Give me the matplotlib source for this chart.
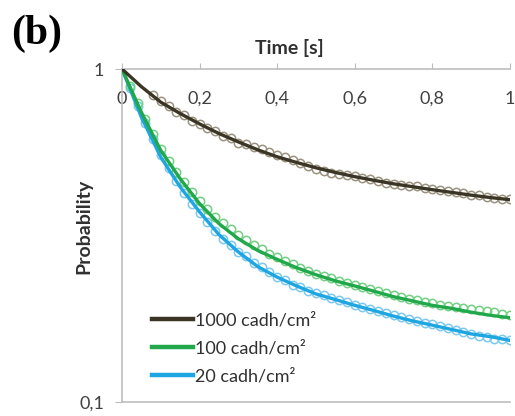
import numpy as np
import matplotlib
matplotlib.use("Agg")
from matplotlib import pyplot as plt

plt.rcParams['font.family'] = ['Lato', 'DejaVu Sans']

# fitted curves, read every 0.05 s
t_fit = [0.00, 0.05, 0.10, 0.15, 0.20, 0.25, 0.30, 0.35, 0.40, 0.45, 0.50,
         0.55, 0.60, 0.65, 0.70, 0.75, 0.80, 0.85, 0.90, 0.95, 1.00]
fit_1000 = [1.0, 0.885, 0.795, 0.735, 0.684, 0.640, 0.604, 0.572, 0.545, 0.524, 0.505,
            0.489, 0.475, 0.463, 0.452, 0.443, 0.434, 0.426, 0.418, 0.411, 0.405]
fit_100 = [1.0, 0.741, 0.569, 0.468, 0.394, 0.343, 0.309, 0.285, 0.268, 0.253, 0.241,
           0.231, 0.223, 0.215, 0.207, 0.201, 0.195, 0.191, 0.186, 0.182, 0.179]
fit_20 = [1.0, 0.716, 0.543, 0.442, 0.372, 0.318, 0.282, 0.255, 0.237, 0.223, 0.211,
          0.203, 0.195, 0.188, 0.181, 0.175, 0.170, 0.165, 0.160, 0.157, 0.153]

# measured points (open circles), every 0.02 s
t_pts = [0.02, 0.04, 0.06, 0.08, 0.10, 0.12, 0.14, 0.16, 0.18, 0.20,
         0.22, 0.24, 0.26, 0.28, 0.30, 0.32, 0.34, 0.36, 0.38, 0.40,
         0.42, 0.44, 0.46, 0.48, 0.50, 0.52, 0.54, 0.56, 0.58, 0.60,
         0.62, 0.64, 0.66, 0.68, 0.70, 0.72, 0.74, 0.76, 0.78, 0.80,
         0.82, 0.84, 0.86, 0.88, 0.90, 0.92, 0.94, 0.96, 0.98, 1.00]
pts_1000 = [None, None, None, 0.835, 0.802, 0.773, 0.744, 0.726, 0.700, 0.686,
            0.664, 0.652, 0.630, 0.620, 0.601, 0.594, 0.585, 0.574, 0.563, 0.553,
            0.544, 0.533, 0.522, 0.510, 0.500, 0.494, 0.488, 0.483, 0.479, 0.476,
            0.472, 0.467, 0.460, 0.454, 0.450, 0.447, 0.446, 0.444, 0.440, 0.436,
            0.433, 0.431, 0.427, 0.423, 0.419, 0.417, 0.414, 0.411, 0.408, 0.406]
pts_100 = [0.887, 0.790, 0.706, 0.636, 0.575, 0.531, 0.492, 0.458, 0.428, 0.401,
           0.380, 0.360, 0.344, 0.330, 0.317, 0.306, 0.296, 0.287, 0.279, 0.272,
           0.265, 0.259, 0.253, 0.247, 0.243, 0.239, 0.235, 0.231, 0.228, 0.225,
           0.222, 0.219, 0.215, 0.212, 0.209, 0.207, 0.204, 0.202, 0.200, 0.198,
           0.196, 0.194, 0.193, 0.191, 0.190, 0.189, 0.187, 0.186, 0.184, 0.182]
pts_20 = [0.880, 0.775, 0.690, 0.615, 0.552, 0.505, 0.462, 0.425, 0.394, 0.369,
          0.348, 0.326, 0.309, 0.296, 0.283, 0.274, 0.262, 0.254, 0.245, 0.238,
          0.232, 0.225, 0.221, 0.216, 0.212, 0.209, 0.205, 0.202, 0.199, 0.196,
          0.193, 0.190, 0.188, 0.185, 0.182, 0.180, 0.177, 0.175, 0.173, 0.171,
          0.169, 0.167, 0.164, 0.162, 0.160, 0.158, 0.157, 0.155, 0.154, 0.153]

labels = ['1000 cadh/cm²', '100 cadh/cm²', '20 cadh/cm²']
line_colors = ['#3b3526', '#21a84a', '#1ea6e2']
marker_colors = ['#9a927f', '#72cf83', '#7dc8ee']

x_ticks = [0, 0.2, 0.4, 0.6, 0.8, 1.0]
x_ticklabels = ['0', '0,2', '0,4', '0,6', '0,8', '1']

fig = plt.figure(figsize=(5.15, 4.16), dpi=100)
ax = fig.add_axes([0.237, 0.034, 0.753, 0.800])

fits = [fit_1000, fit_100, fit_20]
pts = [pts_1000, pts_100, pts_20]
# draw the dark series last so it sits on top like in the original
for i in [2, 1, 0]:
    tx = [t for t, v in zip(t_pts, pts[i]) if v is not None]
    vy = [v for v in pts[i] if v is not None]
    ax.plot(tx, vy, 'o', ms=6, mfc='none', mec=marker_colors[i], mew=1.1, zorder=2)
for i in [2, 1, 0]:
    ax.plot(t_fit, fits[i], '-', color=line_colors[i], lw=2.4, label=labels[i], zorder=3)

ax.set_yscale('log')
ax.set_ylim(0.1, 1)
ax.set_xlim(0, 1)
ax.yaxis.set_minor_locator(matplotlib.ticker.NullLocator())
ax.set_yticks([0.1, 1])
ax.set_yticklabels(['0,1', '1'])

ax.xaxis.tick_top()
ax.set_xticks(x_ticks)
ax.set_xticklabels(x_ticklabels)
ax.tick_params(axis='x', direction='out', length=4, color='#bdbdbd', pad=-31,
               labelsize=13, labelcolor='#404040')
ax.tick_params(axis='y', direction='out', length=5, color='#bdbdbd', pad=8,
               labelsize=13, labelcolor='#404040')
for side in ['top', 'left', 'bottom']:
    ax.spines[side].set_color('#bdbdbd')
    ax.spines[side].set_linewidth(1.2)
ax.spines['right'].set_visible(False)

fig.text(0.561, 0.884, 'Time [s]', ha='center', va='center', fontsize=14,
         fontweight='bold', color='#303030')
fig.text(0.162, 0.455, 'Probability', ha='center', va='center', rotation=90,
         fontsize=14, fontweight='bold', color='#303030')
fig.text(0.022, 0.92, '(b)', ha='left', va='center', fontsize=30, fontweight='bold',
         family='Liberation Serif')

handles, labs = ax.get_legend_handles_labels()
order = [2, 1, 0]
leg = fig.legend([handles[k] for k in order], [labs[k] for k in order],
                 loc='upper left', bbox_to_anchor=(0.295, 0.25), frameon=False,
                 fontsize=13, handlelength=2.3, handletextpad=0.1,
                 labelspacing=0.68, borderpad=0, borderaxespad=0)
for h in leg.legend_handles:
    h.set_linewidth(3.2)
for txt in leg.get_texts():
    txt.set_color('#303030')

fig.savefig('out.png', dpi=100)
